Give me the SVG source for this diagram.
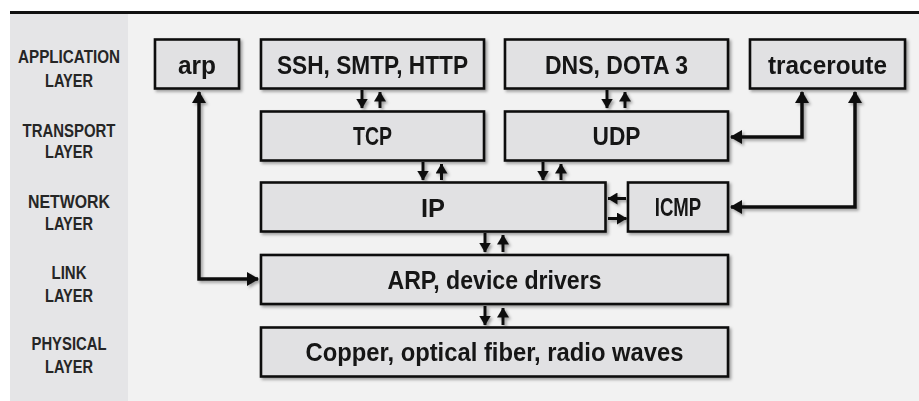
<svg xmlns="http://www.w3.org/2000/svg" width="919" height="401" viewBox="0 0 919 401">
<style>
.box{fill:#e1e1e3;stroke:#111;stroke-width:2.6}
.bt{font-family:"Liberation Sans Narrow","Liberation Sans",Arial,sans-serif;font-weight:bold;font-size:26px;fill:#151515;text-anchor:middle}
.lt{font-family:"Liberation Sans Narrow","Liberation Sans",Arial,sans-serif;font-weight:bold;font-size:19px;fill:#262626;text-anchor:middle}
.big{fill:none;stroke:#111;stroke-width:3.5;marker-end:url(#bigHead);marker-start:url(#bigHead)}
.sm{fill:none;stroke:#111;stroke-width:3;marker-end:url(#smHead)}
</style>
<defs>
<filter id="sh" x="-10%" y="-10%" width="130%" height="140%">
<feDropShadow dx="2" dy="2" stdDeviation="1.4" flood-color="#000" flood-opacity="0.35"/>
</filter>
<marker id="bigHead" markerUnits="userSpaceOnUse" markerWidth="12" markerHeight="14" refX="11" refY="7" orient="auto-start-reverse">
<path d="M0,0 L12,7 L0,14 z" fill="#111"/>
</marker>
<marker id="smHead" markerUnits="userSpaceOnUse" markerWidth="10" markerHeight="12" refX="9.5" refY="6" orient="auto">
<path d="M0,0 L10,6 L0,12 z" fill="#111"/>
</marker>
</defs>

<rect x="0" y="0" width="919" height="401" fill="#ffffff"/>
<rect x="10" y="14" width="909" height="387" fill="#f2f2f2"/>
<rect x="10" y="14" width="118" height="387" fill="#e5e5e7"/>
<line x1="10" y1="12.5" x2="919" y2="12.5" stroke="#111" stroke-width="3"/>

<g id="layer-labels">
<text class="lt" x="69" y="63" textLength="102" lengthAdjust="spacingAndGlyphs">APPLICATION</text>
<text class="lt" x="69" y="87" textLength="48" lengthAdjust="spacingAndGlyphs">LAYER</text>
<text class="lt" x="69" y="136.5" textLength="93" lengthAdjust="spacingAndGlyphs">TRANSPORT</text>
<text class="lt" x="69" y="158" textLength="48" lengthAdjust="spacingAndGlyphs">LAYER</text>
<text class="lt" x="69" y="208" textLength="82" lengthAdjust="spacingAndGlyphs">NETWORK</text>
<text class="lt" x="69" y="230" textLength="48" lengthAdjust="spacingAndGlyphs">LAYER</text>
<text class="lt" x="69" y="279" textLength="35" lengthAdjust="spacingAndGlyphs">LINK</text>
<text class="lt" x="69" y="302" textLength="48" lengthAdjust="spacingAndGlyphs">LAYER</text>
<text class="lt" x="69" y="350" textLength="75" lengthAdjust="spacingAndGlyphs">PHYSICAL</text>
<text class="lt" x="69" y="373" textLength="48" lengthAdjust="spacingAndGlyphs">LAYER</text>
</g>

<g id="connectors" filter="url(#sh)">
<polyline class="big" points="199,92 199,279 258,279"/>
<polyline class="big" points="802,92 802,137 731,137"/>
<polyline class="big" points="855,92 855,207 731,207"/>
<line class="sm" x1="362" y1="90" x2="362" y2="108"/>
<line class="sm" x1="380" y1="108" x2="380" y2="92"/>
<line class="sm" x1="607" y1="90" x2="607" y2="108"/>
<line class="sm" x1="625" y1="108" x2="625" y2="92"/>
<line class="sm" x1="423" y1="162" x2="423" y2="180"/>
<line class="sm" x1="441.5" y1="180" x2="441.5" y2="164"/>
<line class="sm" x1="543" y1="162" x2="543" y2="180"/>
<line class="sm" x1="561" y1="180" x2="561" y2="164"/>
<line class="sm" x1="485" y1="233" x2="485" y2="252"/>
<line class="sm" x1="503" y1="252" x2="503" y2="235"/>
<line class="sm" x1="485" y1="306" x2="485" y2="325"/>
<line class="sm" x1="503" y1="325" x2="503" y2="308"/>
<line class="sm" x1="626" y1="198.5" x2="608" y2="198.5"/>
<line class="sm" x1="608" y1="218.5" x2="626.5" y2="218.5"/>
</g>

<g id="node-arp" filter="url(#sh)">
<rect class="box" x="155" y="39.5" width="84" height="49"/>
<text class="bt" x="197" y="73.5" textLength="38" lengthAdjust="spacingAndGlyphs">arp</text>
</g>
<g id="node-ssh" filter="url(#sh)">
<rect class="box" x="261" y="39.5" width="223" height="49"/>
<text class="bt" x="372.5" y="73.5" textLength="191" lengthAdjust="spacingAndGlyphs">SSH, SMTP, HTTP</text>
</g>
<g id="node-dns" filter="url(#sh)">
<rect class="box" x="505" y="39.5" width="223" height="49"/>
<text class="bt" x="616.5" y="73.5" textLength="143" lengthAdjust="spacingAndGlyphs">DNS, DOTA 3</text>
</g>
<g id="node-traceroute" filter="url(#sh)">
<rect class="box" x="750" y="39.5" width="155" height="49"/>
<text class="bt" x="827.5" y="73.5" textLength="119" lengthAdjust="spacingAndGlyphs">traceroute</text>
</g>
<g id="node-tcp" filter="url(#sh)">
<rect class="box" x="261" y="111.5" width="223" height="49"/>
<text class="bt" x="372.5" y="145" textLength="39" lengthAdjust="spacingAndGlyphs">TCP</text>
</g>
<g id="node-udp" filter="url(#sh)">
<rect class="box" x="505" y="111.5" width="223" height="49"/>
<text class="bt" x="616.5" y="145" textLength="48" lengthAdjust="spacingAndGlyphs">UDP</text>
</g>
<g id="node-ip" filter="url(#sh)">
<rect class="box" x="261" y="182.5" width="344.5" height="49"/>
<text class="bt" x="433" y="216.5" textLength="24" lengthAdjust="spacingAndGlyphs">IP</text>
</g>
<g id="node-icmp" filter="url(#sh)">
<rect class="box" x="628" y="182.5" width="100" height="49"/>
<text class="bt" x="678" y="216" font-size="22" textLength="46.5" lengthAdjust="spacingAndGlyphs">ICMP</text>
</g>
<g id="node-arp-drivers" filter="url(#sh)">
<rect class="box" x="261" y="255" width="467" height="49"/>
<text class="bt" x="494.5" y="288.5" textLength="214" lengthAdjust="spacingAndGlyphs">ARP, device drivers</text>
</g>
<g id="node-physical" filter="url(#sh)">
<rect class="box" x="261" y="327.5" width="467" height="49"/>
<text class="bt" x="494.5" y="361" textLength="378" lengthAdjust="spacingAndGlyphs">Copper, optical fiber, radio waves</text>
</g>
</svg>
